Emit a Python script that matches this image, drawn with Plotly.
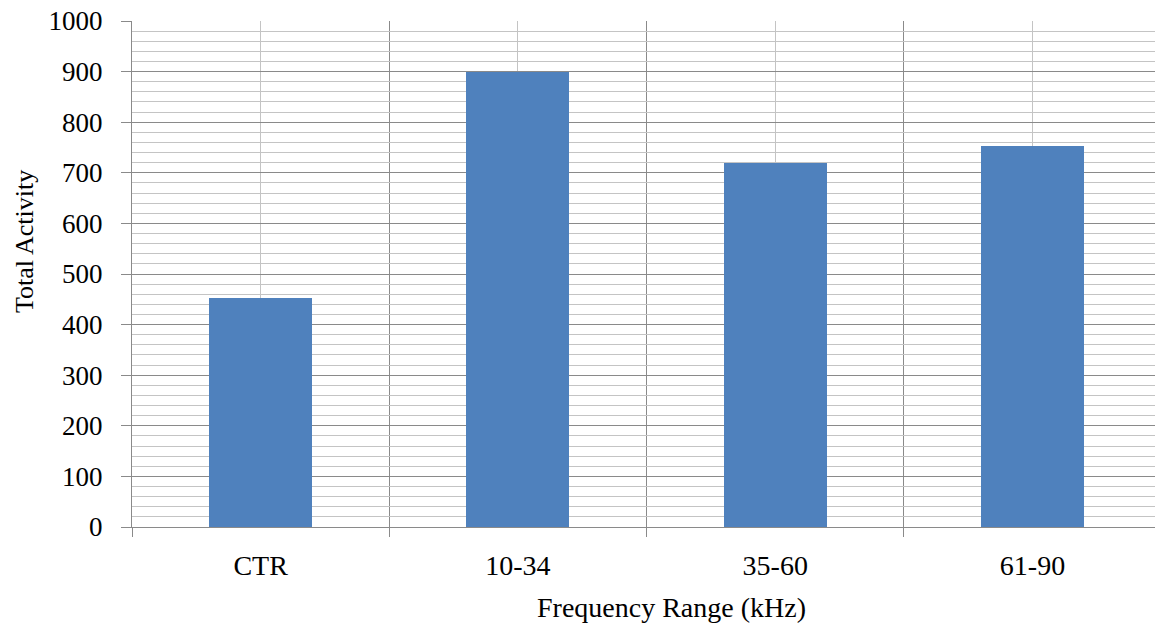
import plotly.graph_objects as go

categories = ["CTR", "10-34", "35-60", "61-90"]
total_activity = [452, 900, 720, 753]
y_tick_values = [0, 100, 200, 300, 400, 500, 600, 700, 800, 900, 1000]

positions = list(range(len(categories)))
boundaries = [p - 0.5 for p in positions]

DARK = "#8a8a8a"
LIGHT = "#c4c4c4"
FONT = "Liberation Serif"

fig = go.Figure()
fig.add_trace(go.Bar(
    x=positions, y=total_activity, width=0.4,
    marker=dict(color="#4F81BD", line=dict(width=0)),
))

fig.update_layout(
    width=1155, height=625,
    margin=dict(l=132, r=0, t=21, b=98),
    paper_bgcolor="white", plot_bgcolor="white",
    showlegend=False,
    font=dict(family=FONT, size=26, color="#000000"),
    bargap=0,
)

fig.update_xaxes(
    range=[-0.5, 3.476],
    tickvals=positions, ticktext=categories,
    ticks="", showgrid=True, gridcolor=LIGHT, gridwidth=1,
    ticklabelstandoff=13,
    showline=True, linecolor=DARK, linewidth=1,
    zeroline=False,
    tickfont=dict(family=FONT, size=28, color="#000"),
    minor=dict(tickvals=boundaries, ticks="outside", ticklen=9,
               tickcolor=DARK, tickwidth=1, showgrid=True,
               gridcolor=DARK, gridwidth=1),
)

fig.update_yaxes(
    range=[0, 1000],
    tickvals=y_tick_values,
    ticks="outside", ticklen=10, tickcolor=DARK, tickwidth=1,
    showgrid=True, gridcolor=DARK, gridwidth=1,
    showline=True, linecolor=DARK, linewidth=1,
    zeroline=False,
    ticklabelstandoff=13,
    tickfont=dict(family=FONT, size=27, color="#000"),
    minor=dict(dtick=20, tick0=0, ticks="", showgrid=True,
               gridcolor=LIGHT, gridwidth=1),
)

fig.add_annotation(
    text="Total Activity", xref="paper", yref="paper",
    x=-0.1056, y=0.565, textangle=-90, showarrow=False,
    xanchor="center", yanchor="middle",
    font=dict(family=FONT, size=26, color="#000"),
)
fig.add_annotation(
    text="Frequency Range (kHz)", xref="paper", yref="paper",
    x=0.527, y=-0.160, showarrow=False,
    xanchor="center", yanchor="middle",
    font=dict(family=FONT, size=28, color="#000"),
)

fig.write_html("out.html", config={"displayModeBar": False},
               post_script="document.body.style.margin='0';")
